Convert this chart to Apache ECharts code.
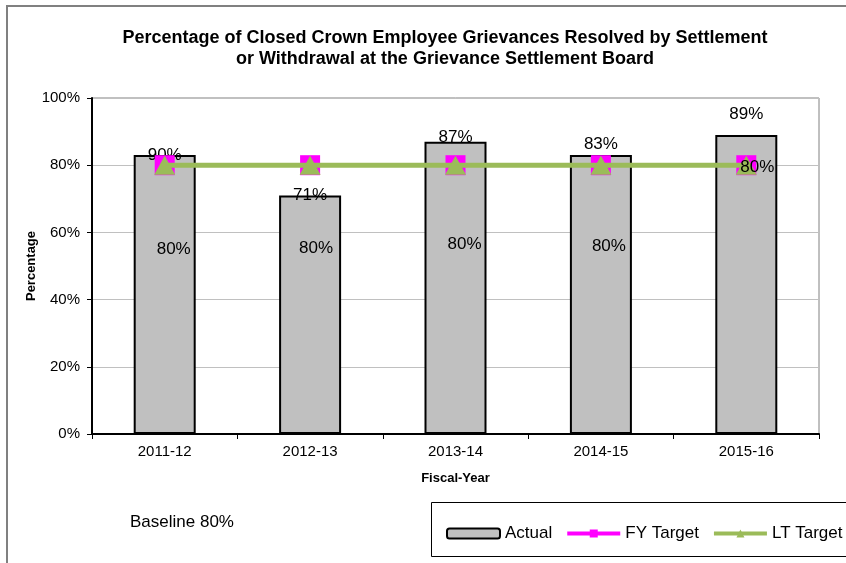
<!DOCTYPE html>
<html><head><meta charset="utf-8">
<script src="https://cdn.jsdelivr.net/npm/echarts@6/dist/echarts.min.js"></script>
<style>html,body{margin:0;padding:0;background:#fff}#c{width:846px;height:563px}</style>
</head><body><div id="c"></div>
<script>
var categories = ['2011-12', '2012-13', '2013-14', '2014-15', '2015-16'];
var actual = [83, 71, 87, 83, 89];
var actualLabels = ['90%', '71%', '87%', '83%', '89%'];
var fyTarget = [80, 80, 80, 80, 80];
var ltTarget = [80, 80, 80, 80, 80];
var yTicks = [0, 20, 40, 60, 80, 100];

var F = 'Arial, "Liberation Sans", sans-serif';
var barLabelOffsets = [[0, 0], [0, 0], [0, -4], [0, -11], [0, -21]];
var ltLabelOffsets = [[9, 94], [6, 93], [9, 89], [8, 91], [11, 12]];

var chart = echarts.init(document.getElementById('c'), null, {renderer: 'canvas'});
chart.setOption({
  animation: false,
  backgroundColor: '#fff',
  title: {
    text: 'Percentage of Closed Crown Employee Grievances Resolved by Settlement\nor Withdrawal at the Grievance Settlement Board',
    left: 440, top: 23, textAlign: 'center',
    textStyle: {fontFamily: F, fontSize: 18, fontWeight: 'bold', color: '#000', lineHeight: 21}
  },
  graphic: [
    {type: 'line', shape: {x1: 7, y1: 6, x2: 7, y2: 563}, style: {stroke: '#808080', lineWidth: 2}},
    {type: 'line', shape: {x1: 6, y1: 6, x2: 846, y2: 6}, style: {stroke: '#808080', lineWidth: 2}},
    {type: 'rect', shape: {x: 431.5, y: 502.5, width: 430, height: 54}, style: {fill: 'none', stroke: '#000', lineWidth: 1}},
    {type: 'text', left: 130, top: 514, style: {text: 'Baseline 80%', fontFamily: F, fontSize: 17, fill: '#000'}}
  ],
  legend: {
    left: 446, top: 525, padding: 0, itemGap: 13, itemWidth: 53, itemHeight: 10,
    textStyle: {fontFamily: F, fontSize: 17, color: '#000'},
    lineStyle: {width: 4},
    data: ['Actual', 'FY Target', 'LT Target']
  },
  grid: {left: 92, right: 27, top: 98, bottom: 129, show: true, borderColor: '#808080', borderWidth: 1},
  xAxis: {
    type: 'category', data: categories,
    name: 'Fiscal-Year', nameLocation: 'middle', nameGap: 38,
    nameTextStyle: {fontFamily: F, fontSize: 13, fontWeight: 'bold', color: '#000'},
    axisLine: {lineStyle: {color: '#000', width: 2}},
    axisTick: {show: true, alignWithLabel: false, length: 5, lineStyle: {color: '#000'}},
    axisLabel: {fontFamily: F, fontSize: 15, color: '#000', margin: 10}
  },
  yAxis: {
    type: 'value', min: 0, max: 100, interval: 20,
    name: 'Percentage', nameLocation: 'middle', nameGap: 54, nameMoveOverlap: false,
    nameTextStyle: {fontFamily: F, fontSize: 13, fontWeight: 'bold', color: '#000'},
    axisLine: {show: true, lineStyle: {color: '#000', width: 2}},
    axisTick: {show: true, length: 5, lineStyle: {color: '#000'}},
    axisLabel: {fontFamily: F, fontSize: 15, color: '#000', margin: 12,
      formatter: function (v) { return yTicks.indexOf(v) >= 0 ? v + '%' : ''; }},
    splitLine: {lineStyle: {color: '#c0c0c0', width: 1}}
  },
  series: [
    {
      name: 'Actual', type: 'bar', barWidth: 62,
      itemStyle: {color: '#c0c0c0', borderColor: '#000', borderWidth: 2},
      data: actual.map(function (v, i) {
        return {value: v, label: {offset: barLabelOffsets[i]}};
      }),
      label: {
        show: true, position: 'top', distance: 0, verticalAlign: 'middle',
        fontFamily: F, fontSize: 17, color: '#000',
        formatter: function (p) { return actualLabels[p.dataIndex]; }
      },
      z: 2
    },
    {
      name: 'FY Target', type: 'line', data: fyTarget,
      symbol: 'rect', symbolSize: 20, showSymbol: true,
      itemStyle: {color: '#ff00ff', borderWidth: 0}, lineStyle: {color: '#ff00ff', width: 3},
      z: 3
    },
    {
      name: 'LT Target', type: 'line',
      data: ltTarget.map(function (v, i) {
        return {value: v, label: {offset: ltLabelOffsets[i]}};
      }),
      symbol: 'triangle', symbolSize: [21, 19], showSymbol: true,
      itemStyle: {color: '#9bbb59', borderWidth: 0}, lineStyle: {color: '#9bbb59', width: 5},
      label: {
        show: true, position: 'top', distance: 0, verticalAlign: 'middle',
        fontFamily: F, fontSize: 17, color: '#000',
        formatter: function (p) { return p.value + '%'; }
      },
      z: 4
    }
  ]
});
</script></body></html>
